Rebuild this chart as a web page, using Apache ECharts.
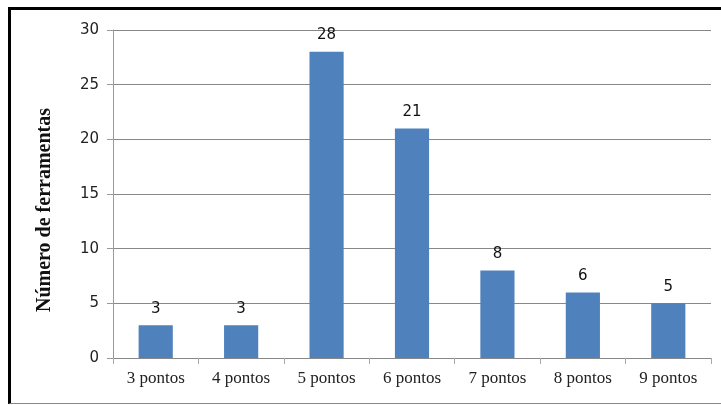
<!DOCTYPE html>
<html>
<head>
<meta charset="utf-8">
<script src="https://cdn.jsdelivr.net/npm/echarts@6/dist/echarts.min.js"></script>
<style>
  html, body { margin: 0; padding: 0; background: #fff; }
  #wrap { position: relative; width: 721px; height: 405px; overflow: hidden; }
  #frame { position: absolute; left: 8px; top: 7px; width: 730px; height: 397px;
    border-top: 3px solid #000; border-left: 3px solid #000; border-bottom: 1px solid #888; box-sizing: border-box; }
  #chart { position: absolute; left: 0; top: 0; width: 721px; height: 405px; }
</style>
</head>
<body>
<div id="wrap">
  <div id="frame"></div>
  <div id="chart"></div>
</div>
<script>
const categories = ['3 pontos', '4 pontos', '5 pontos', '6 pontos', '7 pontos', '8 pontos', '9 pontos'];
const values = [3, 3, 28, 21, 8, 6, 5];
const yTicks = [0, 5, 10, 15, 20, 25, 30];
const yTitle = 'Número de ferramentas';

const chart = echarts.init(document.getElementById('chart'));
chart.setOption({
  animation: false,
  backgroundColor: 'transparent',
  grid: { left: 113, right: 10, top: 30, bottom: 47 },
  graphic: [{
    type: 'text',
    x: 45, y: 210,
    rotation: Math.PI / 2,
    style: {
      text: yTitle,
      fontFamily: 'Liberation Serif', fontWeight: 'bold', fontSize: 20,
      fill: '#111', align: 'center', verticalAlign: 'middle'
    }
  }],
  xAxis: {
    type: 'category',
    data: categories,
    axisLine: { show: false },
    axisTick: { show: true, interval: 0, length: 6, lineStyle: { color: '#aaa' } },
    axisLabel: { color: '#222', fontFamily: 'Liberation Serif', fontSize: 17, margin: 12 }
  },
  yAxis: {
    type: 'value',
    min: yTicks[0],
    max: yTicks[yTicks.length - 1],
    interval: 5,
    axisLine: { show: true, lineStyle: { color: '#999' } },
    axisTick: { show: true, length: 6, lineStyle: { color: '#999' } },
    axisLabel: { color: '#222', fontFamily: 'DejaVu Sans', fontSize: 15, margin: 14 },
    splitLine: { lineStyle: { color: '#888', width: 1 } }
  },
  series: [{
    type: 'bar',
    data: values,
    barWidth: '40%',
    itemStyle: { color: '#4F81BD' },
    label: { show: true, position: 'top', distance: 9, color: '#111', fontFamily: 'DejaVu Sans', fontSize: 15 }
  }]
});
</script>
</body>
</html>
